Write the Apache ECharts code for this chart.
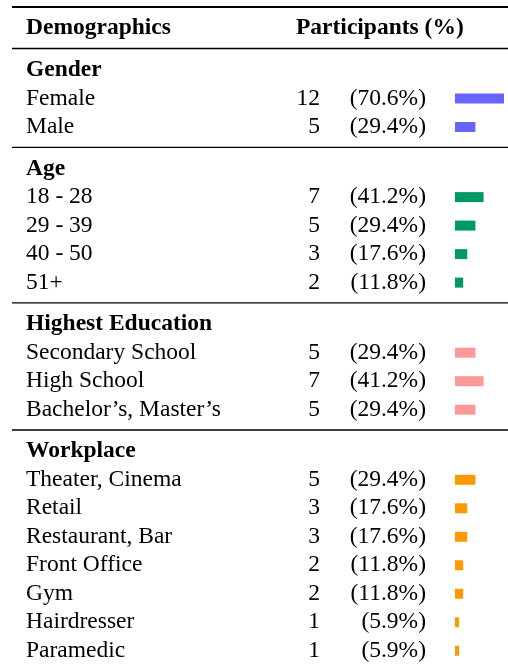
<!DOCTYPE html>
<html>
<head>
<meta charset="utf-8">
<script src="https://cdn.jsdelivr.net/npm/echarts@6/dist/echarts.min.js"></script>
<style>
html,body{margin:0;padding:0;background:#fff;}
#chart{width:508px;height:665px;}
</style>
</head>
<body>
<div id="chart"></div>
<script>
// ---- data ----
var sectionTitles = ['Gender', 'Age', 'Highest Education', 'Workplace'];
var genderLabels = ['Female', 'Male'];
var genderCounts = [12, 5];
var genderPct = [70.6, 29.4];
var ageLabels = ['18 - 28', '29 - 39', '40 - 50', '51+'];
var ageCounts = [7, 5, 3, 2];
var agePct = [41.2, 29.4, 17.6, 11.8];
var eduLabels = ['Secondary School', 'High School', 'Bachelor\u2019s, Master\u2019s'];
var eduCounts = [5, 7, 5];
var eduPct = [29.4, 41.2, 29.4];
var workLabels = ['Theater, Cinema', 'Retail', 'Restaurant, Bar', 'Front Office', 'Gym', 'Hairdresser', 'Paramedic'];
var workCounts = [5, 3, 3, 2, 2, 1, 1];
var workPct = [29.4, 17.6, 17.6, 11.8, 11.8, 5.9, 5.9];
var colors = ['#6666ff', '#009966', '#ff9999', '#ff9900'];
var headerLeft = 'Demographics';
var headerRight = 'Participants (%)';

// ---- layout ----
var FONT = '"Liberation Serif", "Times New Roman", serif';
var FS = 23.5;
var TXT = '#000';
var rowH = 28.5, gap = 41.6, firstCenter = 70;
var barLeft = 455, barW12 = 49;
var sections = [
  {labels: genderLabels, counts: genderCounts, pct: genderPct},
  {labels: ageLabels, counts: ageCounts, pct: agePct},
  {labels: eduLabels, counts: eduCounts, pct: eduPct},
  {labels: workLabels, counts: workCounts, pct: workPct}
];

var grids = [], xAxes = [], yAxes = [], series = [], lines = [];
var center = firstCenter;
sections.forEach(function (s, i) {
  var n = s.labels.length + 1;
  var top = center - rowH / 2;
  grids.push({left: barLeft, width: barW12, top: top, height: n * rowH});
  if (i > 0) lines.push(top - (gap - rowH) / 2 - 0.5);
  var cats = [sectionTitles[i]].concat(s.labels);
  var cnts = [''].concat(s.counts.map(String));
  var pcts = [''].concat(s.pct.map(function (p) { return '(' + p.toFixed(1) + '%)'; }));
  xAxes.push({gridIndex: i, type: 'value', min: 0, max: 12, show: false});
  var base = {gridIndex: i, type: 'category', inverse: true, data: cats, position: 'left',
    axisLine: {show: false}, axisTick: {show: false}, splitLine: {show: false}};
  yAxes.push(Object.assign({}, base, {
    axisLabel: {interval: 0, align: 'left', margin: barLeft - 26, fontFamily: FONT, fontSize: FS, color: TXT,
      formatter: function (v, idx) { return idx === 0 ? '{h|' + v + '}' : v; },
      rich: {h: {fontFamily: FONT, fontSize: FS, fontWeight: 'bold', color: TXT}}}
  }));
  yAxes.push(Object.assign({}, base, {
    axisLabel: {interval: 0, align: 'right', margin: barLeft - 320, fontFamily: FONT, fontSize: FS, color: TXT,
      formatter: function (v, idx) { return cnts[idx]; }}
  }));
  yAxes.push(Object.assign({}, base, {
    axisLabel: {interval: 0, align: 'right', margin: barLeft - 426, fontFamily: FONT, fontSize: FS, color: TXT,
      formatter: function (v, idx) { return pcts[idx]; }}
  }));
  series.push({
    type: 'bar', xAxisIndex: i, yAxisIndex: i * 3, barWidth: 10, silent: true,
    itemStyle: {color: colors[i]},
    data: [null].concat(s.counts)
  });
  center += (n - 1) * rowH + gap;
});

var graphics = [
  {type: 'line', shape: {x1: 12, y1: 7, x2: 508, y2: 7}, style: {stroke: '#000', lineWidth: 2}},
  {type: 'line', shape: {x1: 12, y1: 48.5, x2: 508, y2: 48.5}, style: {stroke: '#000', lineWidth: 1.3}},
  {type: 'text', style: {x: 26, y: 28, text: headerLeft, verticalAlign: 'middle', font: 'bold ' + FS + 'px ' + FONT, fill: TXT}},
  {type: 'text', style: {x: 296, y: 28, text: headerRight, verticalAlign: 'middle', font: 'bold ' + FS + 'px ' + FONT, fill: TXT}}
];
lines.forEach(function (y) {
  graphics.push({type: 'line', shape: {x1: 12, y1: y, x2: 508, y2: y}, style: {stroke: '#000', lineWidth: 1.3}});
});

var chart = echarts.init(document.getElementById('chart'));
chart.setOption({
  animation: false,
  backgroundColor: '#fff',
  grid: grids,
  xAxis: xAxes,
  yAxis: yAxes,
  series: series,
  graphic: graphics
});
</script>
</body>
</html>
